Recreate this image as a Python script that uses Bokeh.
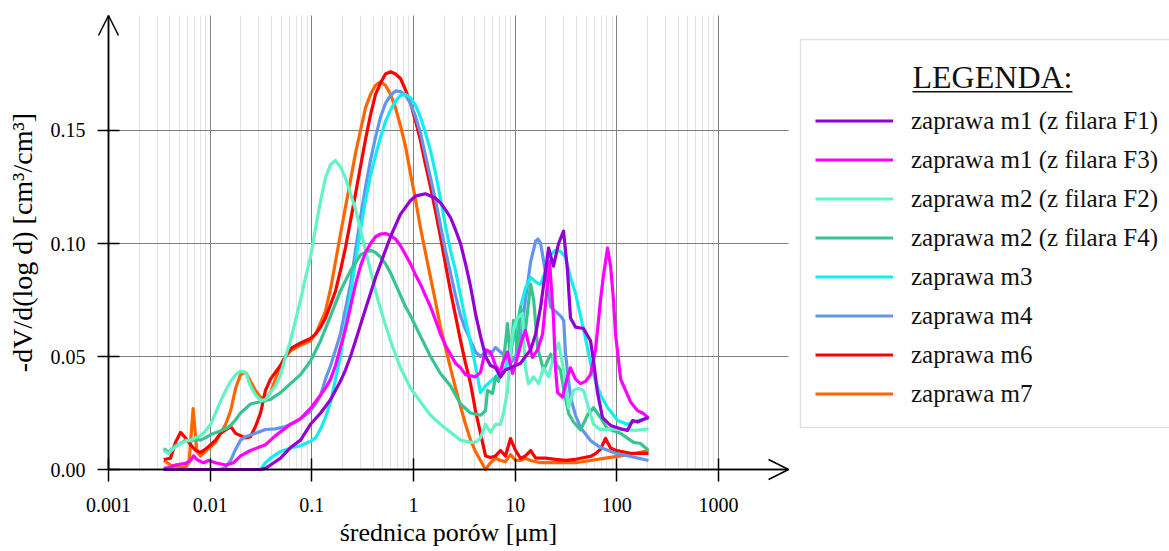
from bokeh.plotting import figure
from bokeh.models import (Range1d, FixedTicker, CustomJSTickFormatter, PrintfTickFormatter,
                          Legend, LegendItem, Label, BoxAnnotation, Arrow, OpenHead)
from bokeh.embed import file_html
from bokeh.resources import INLINE

# ---------------- data: (pore diameter [um], -dV/d(log d) [cm3/cm3]) ----------------
m1_f1 = [(0.0035, 0.0), (0.0313, 0.0), (0.035, 0.0005), (0.0392, 0.002), (0.0492, 0.005),
         (0.0617, 0.0097), (0.0774, 0.013), (0.097, 0.020), (0.122, 0.025), (0.153, 0.031),
         (0.191, 0.039), (0.214, 0.044), (0.24, 0.050), (0.269, 0.057), (0.301, 0.064),
         (0.337, 0.071), (0.378, 0.078), (0.423, 0.085), (0.474, 0.091), (0.53, 0.097),
         (0.594, 0.103), (0.665, 0.108), (0.745, 0.113), (0.834, 0.116), (0.934, 0.119),
         (1.05, 0.121), (1.17, 0.1215), (1.31, 0.122), (1.47, 0.121), (1.65, 0.120),
         (1.84, 0.118), (2.06, 0.115), (2.31, 0.1115), (2.59, 0.106), (2.9, 0.100),
         (3.25, 0.091), (3.64, 0.081), (4.07, 0.069), (4.56, 0.059), (5.11, 0.050),
         (5.72, 0.046), (6.41, 0.045), (7.17, 0.041), (8.03, 0.044), (9.0, 0.045),
         (10.1, 0.046), (11.3, 0.047), (12.6, 0.050), (14.2, 0.053), (15.9, 0.060),
         (17.8, 0.072), (19.9, 0.088), (21.3, 0.098), (23.8, 0.090), (26.7, 0.100),
         (29.9, 0.1055), (32.7, 0.088), (35.0, 0.067), (39.2, 0.063), (47.0, 0.0624),
         (55.1, 0.057), (59.0, 0.048), (64.5, 0.034), (72.3, 0.023), (86.7, 0.0195),
         (109, 0.018), (127, 0.0173), (143, 0.0217), (160, 0.021), (191, 0.0226), (205, 0.023)]

m1_f3 = [(0.0035, 0.0005), (0.00407, 0.001), (0.00456, 0.002), (0.00572, 0.0027), (0.00641, 0.004),
         (0.00686, 0.006), (0.0075, 0.0042), (0.0086, 0.003), (0.00963, 0.004), (0.0113, 0.003),
         (0.0142, 0.002), (0.017, 0.003), (0.0199, 0.006), (0.0249, 0.0084), (0.035, 0.011),
         (0.0439, 0.015), (0.0617, 0.020), (0.0774, 0.0225), (0.097, 0.027), (0.122, 0.033),
         (0.136, 0.036), (0.153, 0.040), (0.171, 0.046), (0.191, 0.054), (0.214, 0.062),
         (0.24, 0.072), (0.269, 0.082), (0.301, 0.090), (0.337, 0.096), (0.378, 0.100),
         (0.423, 0.103), (0.474, 0.1042), (0.53, 0.1044), (0.594, 0.1035), (0.665, 0.102),
         (0.745, 0.099), (0.834, 0.095), (0.934, 0.091), (1.05, 0.086), (1.17, 0.082),
         (1.31, 0.077), (1.47, 0.072), (1.65, 0.066), (1.84, 0.060), (2.06, 0.055),
         (2.31, 0.051), (2.59, 0.047), (2.9, 0.045), (3.25, 0.042), (3.64, 0.0415),
         (4.07, 0.041), (4.56, 0.043), (5.11, 0.053), (5.72, 0.052), (6.41, 0.046),
         (7.17, 0.043), (7.51, 0.047), (8.41, 0.052), (9.41, 0.0425), (10.5, 0.0496),
         (11.8, 0.058), (12.6, 0.0615), (13.5, 0.056), (14.8, 0.0496), (16.6, 0.053),
         (18.6, 0.060), (19.9, 0.0735), (21.8, 0.092), (23.8, 0.067), (24.9, 0.045),
         (26.1, 0.034), (29.2, 0.032), (32.7, 0.041), (35.0, 0.045), (39.2, 0.040),
         (43.9, 0.038), (49.2, 0.039), (55.1, 0.042), (61.7, 0.053), (69.1, 0.075),
         (73.9, 0.086), (81.0, 0.098), (86.7, 0.090), (92.7, 0.075), (97.0, 0.060),
         (109, 0.040), (136, 0.030), (160, 0.026), (183, 0.0248), (205, 0.0226)]

m2_f2 = [(0.0035, 0.0084), (0.00389, 0.007), (0.00436, 0.0093), (0.00511, 0.0115), (0.00572, 0.0125),
         (0.00641, 0.013), (0.00717, 0.014), (0.00803, 0.015), (0.009, 0.017), (0.0101, 0.020),
         (0.0113, 0.025), (0.0126, 0.030), (0.0142, 0.035), (0.0159, 0.039), (0.0178, 0.042),
         (0.0199, 0.0435), (0.0223, 0.043), (0.0249, 0.037), (0.0279, 0.033), (0.0313, 0.0305),
         (0.035, 0.031), (0.0392, 0.034), (0.0439, 0.037), (0.0492, 0.042), (0.0551, 0.050),
         (0.0617, 0.057), (0.0691, 0.066), (0.0774, 0.075), (0.0867, 0.085), (0.097, 0.094),
         (0.109, 0.107), (0.122, 0.119), (0.136, 0.129), (0.153, 0.135), (0.171, 0.1367),
         (0.191, 0.134), (0.214, 0.129), (0.24, 0.122), (0.269, 0.115), (0.301, 0.106),
         (0.337, 0.097), (0.378, 0.088), (0.423, 0.079), (0.474, 0.071), (0.53, 0.064),
         (0.594, 0.057), (0.665, 0.051), (0.745, 0.045), (0.934, 0.036), (1.17, 0.030),
         (1.47, 0.024), (1.84, 0.020), (2.31, 0.0165), (2.9, 0.013), (3.64, 0.012),
         (4.07, 0.012), (4.56, 0.014), (5.11, 0.020), (5.72, 0.0164), (6.41, 0.020),
         (7.17, 0.020), (7.68, 0.025), (8.41, 0.035), (9.0, 0.0527), (9.63, 0.062),
         (10.5, 0.067), (11.8, 0.069), (12.6, 0.045), (13.5, 0.038), (15.2, 0.041),
         (17.0, 0.038), (19.0, 0.045), (21.3, 0.041), (23.8, 0.050), (26.7, 0.056),
         (29.9, 0.044), (33.5, 0.0274), (37.5, 0.035), (42.0, 0.036), (47.0, 0.035),
         (51.4, 0.029), (59.0, 0.020), (69.1, 0.0175), (86.7, 0.018), (109, 0.0178),
         (153, 0.0173), (205, 0.018)]

m2_f4 = [(0.0035, 0.0093), (0.00389, 0.0075), (0.00456, 0.0106), (0.00511, 0.0115), (0.00572, 0.013),
         (0.00641, 0.0125), (0.00717, 0.0135), (0.00803, 0.013), (0.009, 0.014), (0.0101, 0.0155),
         (0.0113, 0.0163), (0.0126, 0.017), (0.0142, 0.018), (0.0159, 0.0195), (0.0178, 0.022),
         (0.0199, 0.025), (0.0223, 0.027), (0.0249, 0.029), (0.0313, 0.030), (0.0392, 0.031),
         (0.0492, 0.034), (0.0617, 0.038), (0.0774, 0.042), (0.097, 0.048), (0.122, 0.057),
         (0.153, 0.068), (0.191, 0.079), (0.24, 0.088), (0.301, 0.095), (0.337, 0.096),
         (0.378, 0.097), (0.423, 0.096), (0.474, 0.094), (0.53, 0.091), (0.594, 0.087),
         (0.665, 0.082), (0.745, 0.077), (0.834, 0.072), (0.934, 0.068), (1.17, 0.059),
         (1.47, 0.050), (1.84, 0.0425), (2.31, 0.037), (2.9, 0.029), (3.64, 0.025),
         (4.56, 0.024), (5.11, 0.026), (5.34, 0.035), (5.98, 0.0336), (6.41, 0.041),
         (6.85, 0.039), (7.68, 0.048), (8.41, 0.0646), (9.0, 0.048), (9.63, 0.066),
         (10.5, 0.054), (11.3, 0.072), (12.6, 0.0615), (14.2, 0.082), (15.2, 0.075),
         (16.6, 0.054), (19.0, 0.044), (22.3, 0.051), (24.9, 0.047), (27.9, 0.044),
         (29.9, 0.036), (33.5, 0.0248), (37.5, 0.021), (43.9, 0.0175), (51.4, 0.024),
         (59.0, 0.0274), (69.1, 0.023), (81.0, 0.018), (109, 0.016), (146, 0.012),
         (171, 0.0115), (205, 0.0084)]

m3 = [(0.0035, 0.0), (0.0313, 0.0), (0.035, 0.003), (0.0392, 0.005), (0.0492, 0.008),
      (0.0617, 0.0095), (0.0774, 0.0105), (0.097, 0.0125), (0.109, 0.014), (0.122, 0.018),
      (0.136, 0.023), (0.153, 0.030), (0.171, 0.040), (0.191, 0.050), (0.214, 0.064),
      (0.24, 0.078), (0.269, 0.092), (0.301, 0.106), (0.337, 0.119), (0.378, 0.130),
      (0.423, 0.139), (0.474, 0.147), (0.53, 0.154), (0.594, 0.159), (0.665, 0.163),
      (0.745, 0.1655), (0.834, 0.166), (0.934, 0.1645), (1.05, 0.161), (1.17, 0.156),
      (1.31, 0.149), (1.47, 0.141), (1.65, 0.131), (1.84, 0.120), (2.06, 0.108),
      (2.31, 0.097), (2.59, 0.088), (2.9, 0.077), (3.25, 0.066), (3.64, 0.056),
      (4.07, 0.046), (4.56, 0.034), (5.11, 0.037), (5.72, 0.039), (6.41, 0.041),
      (7.17, 0.043), (8.03, 0.045), (9.0, 0.052), (10.1, 0.062), (11.3, 0.072),
      (12.6, 0.080), (14.2, 0.085), (15.9, 0.083), (17.8, 0.082), (19.9, 0.088),
      (22.3, 0.095), (24.9, 0.097), (27.9, 0.0965), (31.3, 0.094), (35.0, 0.085),
      (39.2, 0.078), (43.9, 0.068), (49.2, 0.058), (55.1, 0.047), (61.7, 0.039),
      (69.1, 0.033), (81.0, 0.0274), (102, 0.0217), (127, 0.020), (160, 0.0217), (205, 0.0226)]

m4 = [(0.0035, 0.0), (0.0126, 0.0), (0.0142, 0.001), (0.0159, 0.004), (0.0178, 0.009),
      (0.0199, 0.013), (0.0223, 0.0145), (0.0279, 0.016), (0.035, 0.0177), (0.0439, 0.018),
      (0.0551, 0.019), (0.0691, 0.021), (0.0867, 0.024), (0.097, 0.026), (0.109, 0.029),
      (0.122, 0.033), (0.136, 0.040), (0.153, 0.046), (0.171, 0.053), (0.191, 0.060),
      (0.214, 0.071), (0.24, 0.082), (0.269, 0.097), (0.301, 0.1115), (0.337, 0.125),
      (0.378, 0.137), (0.423, 0.147), (0.474, 0.156), (0.53, 0.162), (0.594, 0.1655),
      (0.665, 0.1675), (0.745, 0.1672), (0.834, 0.1655), (0.934, 0.162), (1.05, 0.156),
      (1.17, 0.149), (1.31, 0.139), (1.47, 0.129), (1.65, 0.119), (1.84, 0.108),
      (2.06, 0.097), (2.31, 0.087), (2.59, 0.077), (2.9, 0.068), (3.25, 0.062),
      (3.64, 0.057), (4.07, 0.052), (4.56, 0.050), (5.11, 0.052), (5.72, 0.051),
      (6.41, 0.054), (7.17, 0.052), (8.03, 0.050), (9.0, 0.047), (10.1, 0.050),
      (11.3, 0.058), (12.6, 0.075), (14.2, 0.092), (15.9, 0.101), (16.8, 0.102),
      (17.8, 0.100), (19.9, 0.087), (22.3, 0.072), (24.9, 0.070), (27.9, 0.068),
      (30.0, 0.066), (31.3, 0.051), (35.0, 0.032), (39.2, 0.024), (43.9, 0.0186),
      (55.1, 0.0128), (69.1, 0.0097), (97.0, 0.0072), (136, 0.0058), (205, 0.004)]

m6 = [(0.0035, 0.0044), (0.00407, 0.005), (0.00456, 0.012), (0.00511, 0.0164), (0.00572, 0.014),
      (0.00641, 0.011), (0.00717, 0.0085), (0.00803, 0.0075), (0.009, 0.009), (0.0101, 0.011),
      (0.0113, 0.013), (0.0126, 0.016), (0.0159, 0.019), (0.0178, 0.016), (0.0199, 0.015),
      (0.0223, 0.014), (0.0249, 0.0145), (0.0279, 0.019), (0.0313, 0.025), (0.035, 0.035),
      (0.0392, 0.040), (0.0439, 0.043), (0.0492, 0.046), (0.0551, 0.050), (0.0617, 0.0535),
      (0.0774, 0.056), (0.097, 0.058), (0.109, 0.060), (0.122, 0.063), (0.136, 0.067),
      (0.153, 0.073), (0.171, 0.079), (0.191, 0.088), (0.214, 0.098), (0.24, 0.110),
      (0.269, 0.122), (0.301, 0.134), (0.337, 0.146), (0.378, 0.157), (0.423, 0.166),
      (0.474, 0.171), (0.53, 0.175), (0.594, 0.176), (0.665, 0.175), (0.745, 0.173),
      (0.834, 0.168), (0.934, 0.162), (1.05, 0.154), (1.17, 0.1456), (1.31, 0.135),
      (1.47, 0.125), (1.65, 0.114), (1.84, 0.103), (2.06, 0.091), (2.31, 0.079),
      (2.59, 0.068), (2.9, 0.057), (3.25, 0.047), (3.64, 0.038), (4.07, 0.026),
      (4.56, 0.016), (5.11, 0.006), (5.72, 0.0053), (6.41, 0.006), (7.17, 0.0084),
      (8.03, 0.006), (9.0, 0.0137), (10.1, 0.0084), (11.3, 0.0049), (12.6, 0.006),
      (14.2, 0.0084), (15.9, 0.005), (19.9, 0.005), (24.9, 0.0045), (31.3, 0.004),
      (39.2, 0.0045), (43.9, 0.005), (55.1, 0.0058), (61.7, 0.007), (69.1, 0.009),
      (77.4, 0.0137), (86.7, 0.0095), (97.0, 0.0085), (109, 0.008), (136, 0.0072),
      (171, 0.0071), (205, 0.0071)]

m7 = [(0.0035, 0.004), (0.00407, 0.002), (0.00511, 0.001), (0.00572, 0.001), (0.0062, 0.003),
      (0.0068, 0.027), (0.0074, 0.008), (0.00803, 0.006), (0.009, 0.008), (0.0101, 0.010),
      (0.0113, 0.012), (0.0126, 0.016), (0.0142, 0.020), (0.0159, 0.026), (0.0178, 0.036),
      (0.0199, 0.042), (0.0223, 0.043), (0.0249, 0.039), (0.0279, 0.035), (0.0313, 0.032),
      (0.035, 0.0314), (0.0392, 0.034), (0.0439, 0.040), (0.0492, 0.046), (0.0551, 0.050),
      (0.0617, 0.0525), (0.0774, 0.055), (0.097, 0.057), (0.109, 0.060), (0.122, 0.065),
      (0.136, 0.070), (0.153, 0.080), (0.171, 0.092), (0.191, 0.104), (0.214, 0.116),
      (0.24, 0.128), (0.269, 0.140), (0.301, 0.150), (0.337, 0.160), (0.378, 0.166),
      (0.423, 0.170), (0.474, 0.1715), (0.53, 0.170), (0.594, 0.166), (0.665, 0.160),
      (0.745, 0.152), (0.834, 0.143), (0.934, 0.131), (1.05, 0.119), (1.17, 0.107),
      (1.31, 0.096), (1.47, 0.085), (1.65, 0.074), (1.84, 0.063), (2.06, 0.054),
      (2.31, 0.045), (2.59, 0.036), (2.9, 0.028), (3.25, 0.020), (3.64, 0.013),
      (4.07, 0.008), (4.56, 0.004), (5.11, 0.0), (5.72, 0.003), (6.41, 0.005),
      (7.17, 0.004), (8.03, 0.0035), (9.0, 0.0066), (10.1, 0.004), (11.3, 0.004),
      (12.6, 0.005), (14.2, 0.004), (17.8, 0.003), (24.9, 0.003), (39.2, 0.003),
      (55.1, 0.004), (77.4, 0.005), (109, 0.006), (153, 0.0072), (205, 0.0084)]

series_names = ["zaprawa m1 (z filara F1)", "zaprawa m1 (z filara F3)",
                "zaprawa m2 (z filara F2)", "zaprawa m2 (z filara F4)",
                "zaprawa m3", "zaprawa m4", "zaprawa m6", "zaprawa m7"]
series_data = [m1_f1, m1_f3, m2_f2, m2_f4, m3, m4, m6, m7]
series_colors = ["#9400D3", "#FF00FF", "#62F3C6", "#38C490",
                 "#12EEF0", "#6495ED", "#FF0000", "#FF6600"]

x_ticks = [0.001, 0.01, 0.1, 1, 10, 100, 1000]
y_ticks = [0.0, 0.05, 0.10, 0.15]

# axis extents (where the arrows end) and the visible window (whole canvas)
X_MIN, X_MAX = 0.001, 4883
Y_MIN, Y_MAX = 0.0, 0.2009
X_VIEW = (10 ** -4.06226, 10 ** 7.4357)
Y_VIEW = (-0.036283, 0.207522)

SERIF = "Liberation Serif"

p = figure(width=1169, height=551, x_axis_type="log",
           x_range=Range1d(*X_VIEW), y_range=Range1d(*Y_VIEW),
           output_backend="svg", toolbar_location=None,
           min_border_left=0, min_border_right=0, min_border_top=0, min_border_bottom=0)
p.outline_line_color = None
p.background_fill_color = "white"
p.border_fill_color = "white"

# legend frame (drawn underneath everything)
p.add_layout(BoxAnnotation(left=6401, right=3.12e7, bottom=0.018584, top=0.19027,
                           level="underlay", fill_color="white", fill_alpha=1.0,
                           line_color="#9a9a9a", line_width=1.5))

# ticks / grid
minor = [m * 10.0 ** e for e in range(-3, 3) for m in range(2, 10)]
p.xaxis.ticker = FixedTicker(ticks=x_ticks, minor_ticks=minor)
p.yaxis.ticker = FixedTicker(ticks=y_ticks)
p.xaxis.formatter = CustomJSTickFormatter(code="return tick.toString();")
p.yaxis.formatter = PrintfTickFormatter(format="%.2f")

p.xaxis.fixed_location = Y_MIN
p.yaxis.fixed_location = X_MIN
p.xaxis.bounds = (X_MIN, X_MAX)
p.yaxis.bounds = (Y_MIN, Y_MAX)

p.xgrid.grid_line_color = "#808080"
p.xgrid.grid_line_width = 1
p.xgrid.minor_grid_line_color = "#e2e2e2"
p.xgrid.minor_grid_line_width = 1
p.xgrid.cross_bounds = (Y_MIN, Y_MAX)
p.ygrid.grid_line_color = "#808080"
p.ygrid.grid_line_width = 1
p.ygrid.cross_bounds = (X_MIN, X_MAX)

for ax in (p.xaxis, p.yaxis):
    ax.axis_line_color = "black"
    ax.axis_line_width = 1.5
    ax.major_tick_line_color = "black"
    ax.major_tick_line_width = 1.5
    ax.minor_tick_in = 0
    ax.minor_tick_out = 0
    ax.major_label_text_font = SERIF
    ax.major_label_text_font_size = "20px"
    ax.major_label_text_color = "black"
    ax.axis_label_text_font = SERIF
    ax.axis_label_text_font_style = "normal"
    ax.axis_label_text_color = "black"

p.xaxis.major_tick_in = 11
p.xaxis.major_tick_out = 12
p.xaxis.major_label_standoff = 16
p.xaxis.axis_label = "średnica porów [μm]"
p.xaxis.axis_label_text_font_size = "26px"
p.xaxis.axis_label_standoff = 3

p.yaxis.major_tick_in = 11
p.yaxis.major_tick_out = 11
p.yaxis.major_label_standoff = 12
p.yaxis.axis_label = "-dV/d(log d) [cm³/cm³]"
p.yaxis.axis_label_text_font_size = "28px"
p.yaxis.axis_label_standoff = 10

# axis arrows
p.add_layout(Arrow(end=OpenHead(size=20, line_width=1.5, line_color="black"),
                   x_start=X_MIN, y_start=Y_MIN, x_end=X_MIN, y_end=Y_MAX,
                   line_width=1.5, line_color="black"))
p.add_layout(Arrow(end=OpenHead(size=20, line_width=1.5, line_color="black"),
                   x_start=X_MIN, y_start=Y_MIN, x_end=X_MAX, y_end=Y_MIN,
                   line_width=1.5, line_color="black"))

# lines (drawn last-to-first so m1 F1 ends on top)
renderers = {}
for name, data, color in reversed(list(zip(series_names, series_data, series_colors))):
    xs = [d for d, v in data]
    ys = [v for d, v in data]
    renderers[name] = p.line(xs, ys, line_color=color, line_width=3.2, line_join="round")

items = [LegendItem(label=n, renderers=[renderers[n]]) for n in series_names]
legend = Legend(items=items, location=(800, 124),
                border_line_alpha=0.0, background_fill_alpha=0.0,
                padding=15, spacing=2, margin=0,
                glyph_width=78, glyph_height=37, label_height=37, label_standoff=18,
                label_text_font=SERIF, label_text_font_size="25px", label_text_color="#111111",
                title="LEGENDA:", title_text_font=SERIF, title_text_font_size="32px",
                title_text_alpha=0.0, title_standoff=9)
p.add_layout(legend)

# legend heading (centred, underlined)
TITLE_X, TITLE_Y = 4.952e5, 0.17367
p.add_layout(Label(x=TITLE_X, y=TITLE_Y, text="LEGENDA:",
                   text_align="center", text_baseline="alphabetic",
                   text_font=SERIF, text_font_size="32px", text_color="#111111"))
p.add_layout(BoxAnnotation(left=8.09e4, right=3.031e6, bottom=0.16681, top=0.16748,
                           fill_color="#111111", fill_alpha=1.0, line_color=None))

open("out.html", "w").write(file_html(p, INLINE))
